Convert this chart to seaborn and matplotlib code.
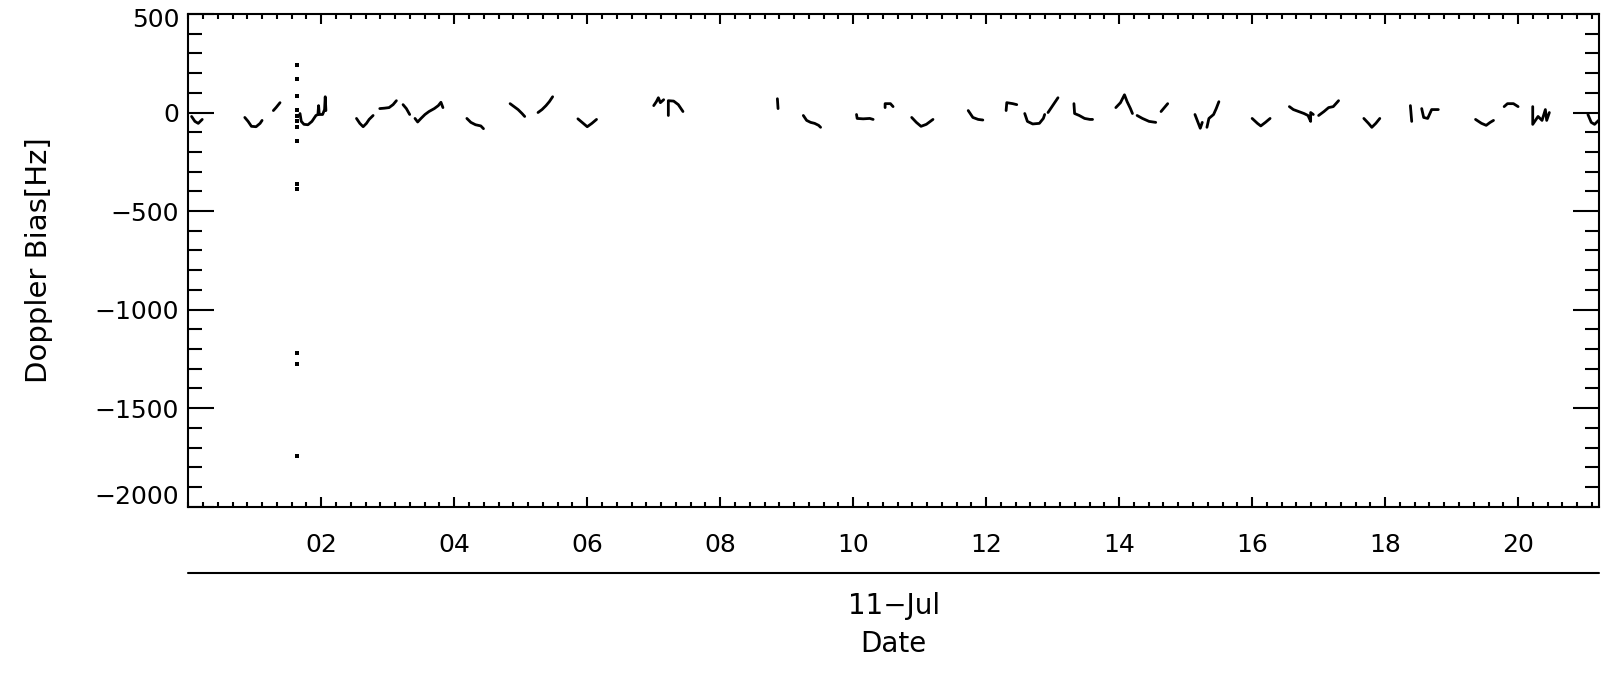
import numpy as np
import pandas as pd
import seaborn as sns
import matplotlib.pyplot as plt
from matplotlib.ticker import MultipleLocator, FixedLocator, FixedFormatter
from matplotlib.lines import Line2D

# Doppler bias per tracking pass (hours of 11 July, Hz)
pass_01_h = [0.05, 0.10, 0.15, 0.21]
pass_01_v = [-20, -45, -55, -35]
pass_02_h = [0.85, 0.90, 0.95, 1.02, 1.08, 1.11]
pass_02_v = [-25, -45, -70, -72, -55, -40]
pass_03_h = [1.28, 1.32, 1.38]
pass_03_v = [10, 25, 50]
pass_04_h = [1.68, 1.70, 1.74, 1.80, 1.86, 1.92, 1.95, 1.96, 1.97, 2.02, 2.05, 2.06, 2.07]
pass_04_v = [-5, -45, -60, -62, -45, -15, -10, 35, -10, -10, 15, 80, 10]
pass_05_h = [2.53, 2.58, 2.63, 2.68, 2.72, 2.78]
pass_05_v = [-30, -55, -72, -55, -35, -15]
pass_06_h = [2.88, 2.95, 3.02, 3.08, 3.13]
pass_06_v = [20, 22, 25, 40, 60]
pass_07_h = [3.23, 3.28, 3.33]
pass_07_v = [40, 20, -10]
pass_08_h = [3.41, 3.45, 3.50, 3.56, 3.62, 3.70, 3.76, 3.80, 3.83]
pass_08_v = [-30, -48, -30, -10, 5, 20, 35, 52, 25]
pass_09_h = [4.19, 4.25, 4.32, 4.40, 4.44]
pass_09_v = [-30, -50, -62, -68, -82]
pass_10_h = [4.84, 4.90, 4.96, 5.02, 5.06]
pass_10_v = [45, 30, 15, -5, -20]
pass_11_h = [5.26, 5.32, 5.38, 5.43, 5.48]
pass_11_v = [0, 15, 35, 55, 80]
pass_12_h = [5.86, 5.93, 6.00, 6.07, 6.14]
pass_12_v = [-32, -52, -72, -55, -35]
pass_13_h = [7.00, 7.04, 7.07, 7.10, 7.15]
pass_13_v = [35, 55, 75, 50, 65]
pass_14_h = [7.22, 7.22, 7.30, 7.37, 7.44]
pass_14_v = [-15, 60, 58, 40, 5]
pass_15_h = [8.86, 8.87]
pass_15_v = [70, 20]
pass_16_h = [9.25, 9.30, 9.36, 9.42, 9.48, 9.51]
pass_16_v = [-15, -40, -50, -55, -65, -75]
pass_17_h = [10.05, 10.06, 10.15, 10.25, 10.30]
pass_17_v = [-10, -30, -32, -30, -35]
pass_18_h = [10.48, 10.48, 10.56, 10.60]
pass_18_v = [25, 45, 45, 30]
pass_19_h = [10.88, 10.95, 11.02, 11.10, 11.16, 11.20]
pass_19_v = [-25, -50, -70, -60, -45, -35]
pass_20_h = [11.73, 11.80, 11.88, 11.95]
pass_20_v = [10, -25, -35, -38]
pass_21_h = [12.30, 12.31, 12.40, 12.46]
pass_21_v = [10, 50, 45, 40]
pass_22_h = [12.58, 12.62, 12.70, 12.80, 12.86, 12.88]
pass_22_v = [-5, -45, -58, -55, -30, -10]
pass_23_h = [12.93, 12.98, 13.03, 13.08]
pass_23_v = [0, 25, 50, 75]
pass_24_h = [13.32, 13.33, 13.40, 13.48, 13.56, 13.60]
pass_24_v = [45, -5, -15, -30, -35, -35]
pass_25_h = [13.95, 14.02, 14.08, 14.12, 14.17, 14.20]
pass_25_v = [25, 50, 90, 55, 20, -5]
pass_26_h = [14.27, 14.35, 14.45, 14.55]
pass_26_v = [-15, -30, -45, -50]
pass_27_h = [14.63, 14.68, 14.73]
pass_27_v = [5, 25, 45]
pass_28_h = [15.14, 15.18, 15.22, 15.25]
pass_28_v = [-10, -45, -80, -50]
pass_29_h = [15.32, 15.35, 15.42, 15.46, 15.50]
pass_29_v = [-75, -30, -10, 20, 55]
pass_30_h = [16.00, 16.08, 16.13, 16.20, 16.27]
pass_30_v = [-30, -55, -68, -50, -30]
pass_31_h = [16.56, 16.62, 16.70, 16.78, 16.84, 16.88, 16.88, 16.92]
pass_31_v = [30, 15, 5, -5, -15, -45, 0, -10]
pass_32_h = [17.00, 17.08, 17.15, 17.22, 17.30]
pass_32_v = [-15, 5, 25, 30, 60]
pass_33_h = [17.68, 17.75, 17.80, 17.86, 17.92]
pass_33_v = [-30, -55, -75, -55, -30]
pass_34_h = [18.38, 18.40]
pass_34_v = [35, -45]
pass_35_h = [18.55, 18.58, 18.64, 18.70, 18.80]
pass_35_v = [20, -25, -30, 15, 15]
pass_36_h = [19.36, 19.45, 19.52, 19.58, 19.63]
pass_36_v = [-35, -55, -65, -50, -40]
pass_37_h = [19.79, 19.84, 19.93, 20.00]
pass_37_v = [30, 45, 45, 30]
pass_38_h = [20.22, 20.22, 20.30, 20.36, 20.41, 20.43, 20.47]
pass_38_v = [30, -60, -20, -40, 15, -40, 0]
pass_39_h = [21.05, 21.10, 21.15, 21.21]
pass_39_v = [-10, -50, -60, -40]

# isolated outliers at the start of pass 4
spike_h = [1.64] * 13
spike_v = [243, 170, 85, 15, -20, -45, -72, -143, -365, -388, -1220, -1275, -1745]

# axis ticks
x_major = [2, 4, 6, 8, 10, 12, 14, 16, 18, 20]
x_labels = [f"{h:02d}" for h in x_major]
y_major = [-2000, -1500, -1000, -500, 0, 500]
y_labels = ["\u22122000", "\u22121500", "\u22121000", "\u2212500", "0", "500"]

passes = [
    (pass_01_h, pass_01_v), (pass_02_h, pass_02_v), (pass_03_h, pass_03_v),
    (pass_04_h, pass_04_v), (pass_05_h, pass_05_v), (pass_06_h, pass_06_v),
    (pass_07_h, pass_07_v), (pass_08_h, pass_08_v), (pass_09_h, pass_09_v),
    (pass_10_h, pass_10_v), (pass_11_h, pass_11_v), (pass_12_h, pass_12_v),
    (pass_13_h, pass_13_v), (pass_14_h, pass_14_v), (pass_15_h, pass_15_v),
    (pass_16_h, pass_16_v), (pass_17_h, pass_17_v), (pass_18_h, pass_18_v),
    (pass_19_h, pass_19_v), (pass_20_h, pass_20_v), (pass_21_h, pass_21_v),
    (pass_22_h, pass_22_v), (pass_23_h, pass_23_v), (pass_24_h, pass_24_v),
    (pass_25_h, pass_25_v), (pass_26_h, pass_26_v), (pass_27_h, pass_27_v),
    (pass_28_h, pass_28_v), (pass_29_h, pass_29_v), (pass_30_h, pass_30_v),
    (pass_31_h, pass_31_v), (pass_32_h, pass_32_v), (pass_33_h, pass_33_v),
    (pass_34_h, pass_34_v), (pass_35_h, pass_35_v), (pass_36_h, pass_36_v),
    (pass_37_h, pass_37_v), (pass_38_h, pass_38_v), (pass_39_h, pass_39_v),
]
df = pd.concat(
    [pd.DataFrame({"pass": i, "hour": h, "bias": v}) for i, (h, v) in enumerate(passes)],
    ignore_index=True,
)
spikes = pd.DataFrame({"hour": spike_h, "bias": spike_v})

sns.set_style("ticks")
plt.rcParams["font.family"] = ["DejaVu Sans"]
plt.rcParams["axes.unicode_minus"] = True

fig = plt.figure(figsize=(16.05, 6.75), dpi=100)
fig.patch.set_facecolor("white")
ax = fig.add_axes([0.1173, 0.2493, 0.8791, 0.7300])
ax.set_facecolor("white")

sns.lineplot(data=df, x="hour", y="bias", units="pass", estimator=None, sort=False,
             color="black", linewidth=2.0, ax=ax, legend=False)
sns.scatterplot(data=spikes, x="hour", y="bias", color="black", marker="s", s=5,
                linewidth=0, ax=ax, legend=False)

ax.set_xlim(0, 21.22)
ax.set_ylim(-2000, 500)

ax.xaxis.set_major_locator(FixedLocator(x_major))
ax.xaxis.set_major_formatter(FixedFormatter(x_labels))
ax.xaxis.set_minor_locator(MultipleLocator(2 / 9))
ax.yaxis.set_major_locator(FixedLocator(y_major))
ax.yaxis.set_major_formatter(FixedFormatter(["", y_labels[1], y_labels[2], y_labels[3], y_labels[4], ""]))
ax.yaxis.set_minor_locator(MultipleLocator(100))

ax.tick_params(which="both", direction="in", top=True, right=True, width=1.5,
               color="black", labelcolor="black")
ax.tick_params(axis="y", which="major", length=18.5, pad=6.5, labelsize=18)
ax.tick_params(axis="y", which="minor", length=10)
ax.tick_params(axis="x", which="major", length=7.5, pad=19, labelsize=18)
ax.tick_params(axis="x", which="minor", length=3.6)

for sp in ax.spines.values():
    sp.set_linewidth(1.5)
    sp.set_color("black")

# end labels of the y axis sit just inside the frame
ax.annotate(y_labels[5], xy=(0, 500), xycoords=ax.get_yaxis_transform(),
            xytext=(-9, -6), textcoords="offset pixels", ha="right", va="center",
            fontsize=18, color="black")
ax.annotate(y_labels[0], xy=(0, -2000), xycoords=ax.get_yaxis_transform(),
            xytext=(-9, 10), textcoords="offset pixels", ha="right", va="center",
            fontsize=18, color="black")

ax.set_xlabel("")
ax.set_ylabel("Doppler Bias[Hz]", fontsize=21, color="black")
ax.yaxis.set_label_coords(-0.096, 0.5)

# date level of the time axis
fig.add_artist(Line2D([0.1173, 0.9964], [0.1517, 0.1517], color="black", linewidth=1.5))
fig.text(0.5568, 0.1022, "11\u2212Jul", ha="center", va="center", fontsize=20, color="black")
fig.text(0.5568, 0.0459, "Date", ha="center", va="center", fontsize=20, color="black")

fig.savefig("out.png", dpi=100, facecolor="white")
